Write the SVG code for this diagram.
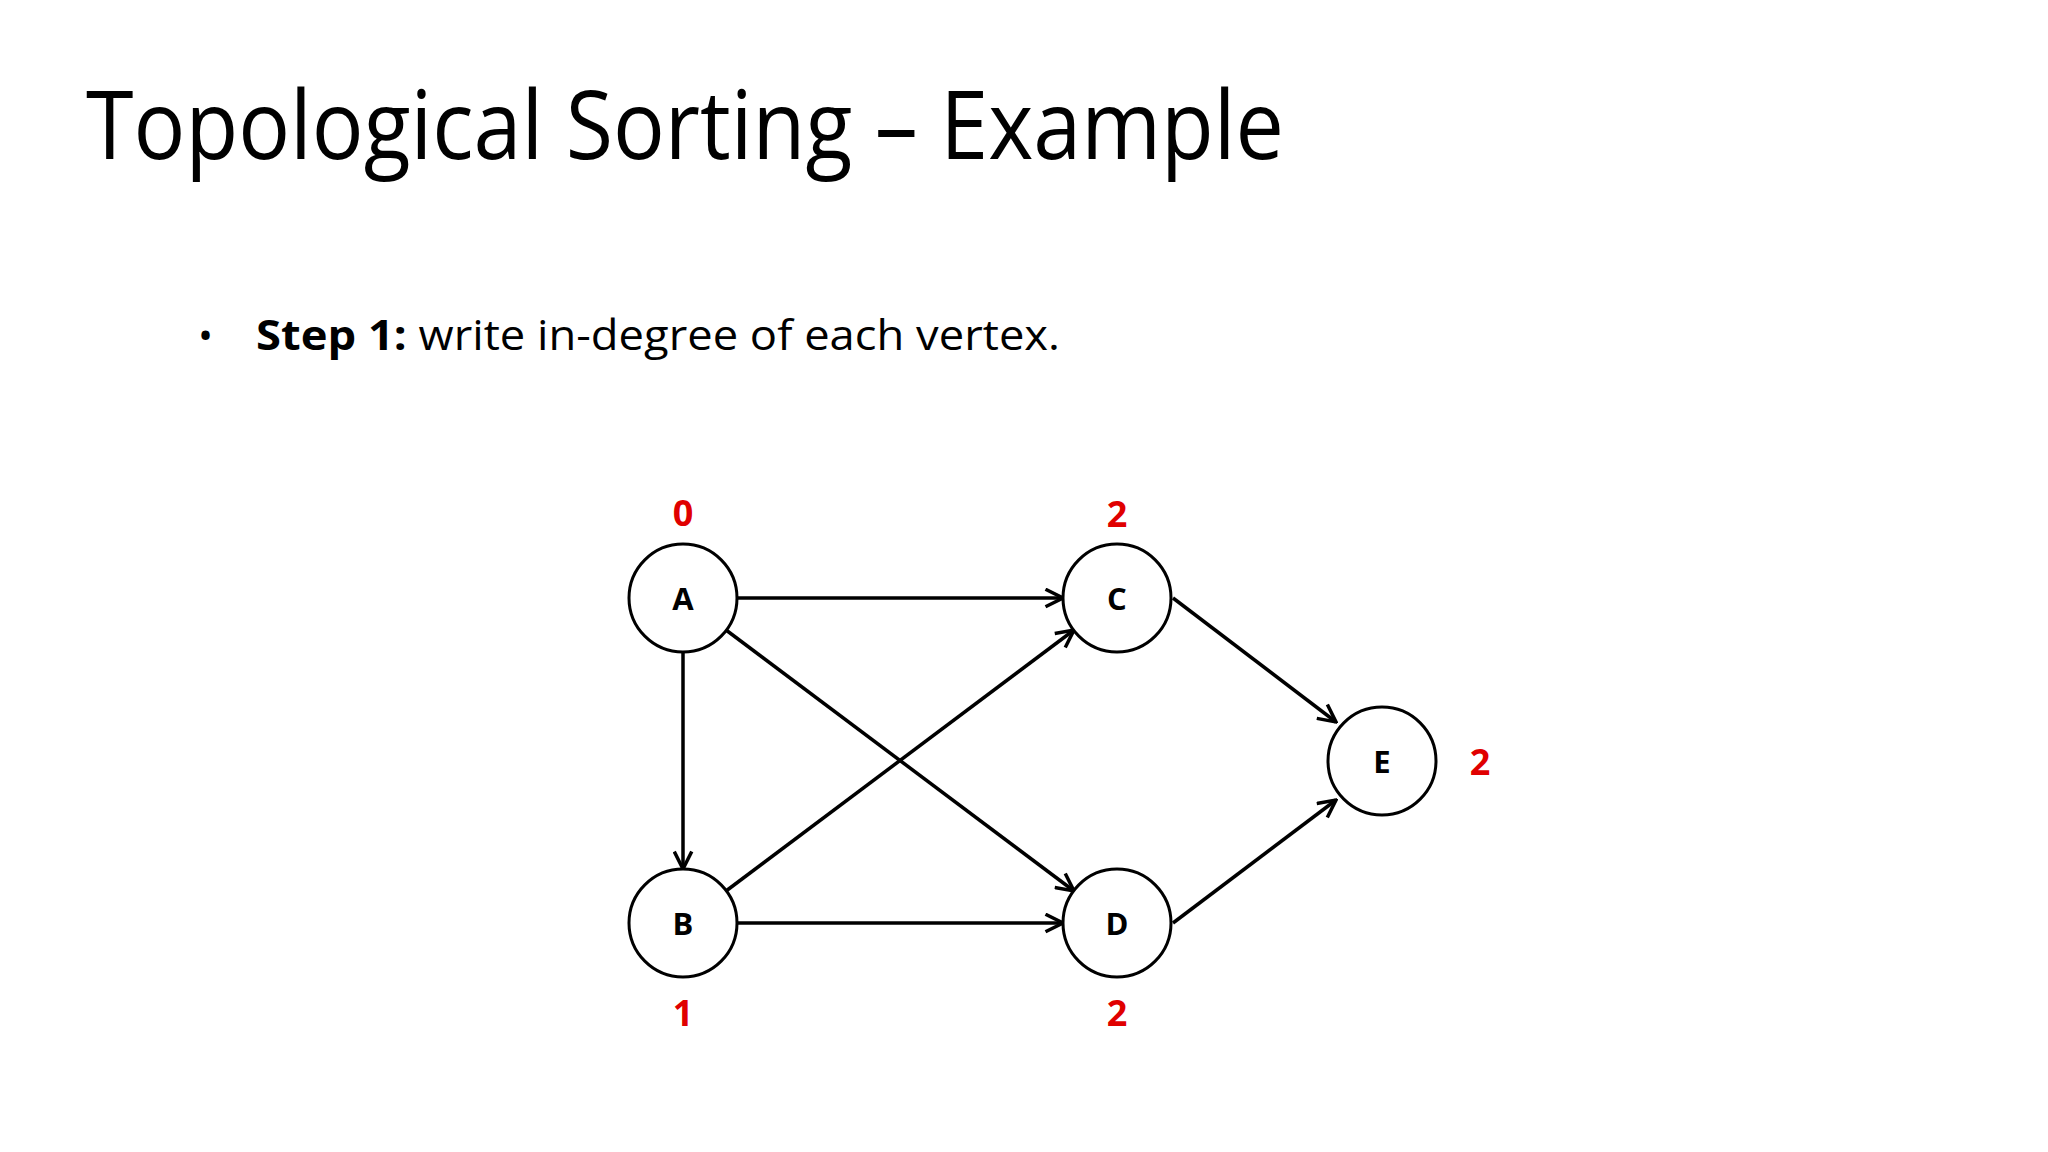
<svg xmlns="http://www.w3.org/2000/svg" width="2048" height="1152" viewBox="0 0 2048 1152">
<style>
.n{fill:#fff;stroke:#000;stroke-width:3}
.l{font-family:"Open Sans","Liberation Sans",sans-serif;font-weight:bold;font-size:31px;text-anchor:middle;dominant-baseline:central}
.d{font-family:"Open Sans","Liberation Sans",sans-serif;font-weight:bold;font-size:36px;fill:#e00000;text-anchor:middle;dominant-baseline:central}
.e{stroke:#000;stroke-width:3.5;fill:none;marker-end:url(#a)}
</style>
<defs><marker id="a" viewBox="0 0 12 12" refX="11" refY="6" markerWidth="6" markerHeight="6" orient="auto" markerUnits="strokeWidth"><path d="M1,1 L11,6 L1,11" fill="none" stroke="#000" stroke-width="2"/></marker></defs>
<rect width="2048" height="1152" fill="#fff"/>
<text x="86" y="159" font-family="Open Sans, Liberation Sans, sans-serif" font-size="96" textLength="1198" lengthAdjust="spacingAndGlyphs">Topological Sorting – Example</text>
<text x="198" y="350" font-family="Open Sans, Liberation Sans, sans-serif" font-size="40">•</text>
<text x="256" y="350" font-family="Open Sans, Liberation Sans, sans-serif" font-size="42" textLength="804" lengthAdjust="spacingAndGlyphs"><tspan font-weight="bold">Step 1:</tspan>  write in-degree of each vertex.</text>
<g id="edges">
<line class="e" x1="737" y1="598" x2="1063" y2="598"/>
<line class="e" x1="683" y1="652" x2="683" y2="869"/>
<line class="e" x1="726" y1="630" x2="1074" y2="891"/>
<line class="e" x1="726" y1="891" x2="1074" y2="630"/>
<line class="e" x1="737" y1="923" x2="1063" y2="923"/>
<line class="e" x1="1173" y1="598" x2="1336" y2="722"/>
<line class="e" x1="1173" y1="923" x2="1336" y2="800"/>
</g>
<g id="A"><circle class="n" cx="683" cy="598" r="54"/><text class="l" x="683" y="598">A</text><text class="d" x="683" y="512">0</text></g>
<g id="C"><circle class="n" cx="1117" cy="598" r="54"/><text class="l" x="1117" y="598">C</text><text class="d" x="1117" y="513">2</text></g>
<g id="B"><circle class="n" cx="683" cy="923" r="54"/><text class="l" x="683" y="923">B</text><text class="d" x="683" y="1012">1</text></g>
<g id="D"><circle class="n" cx="1117" cy="923" r="54"/><text class="l" x="1117" y="923">D</text><text class="d" x="1117" y="1012">2</text></g>
<g id="E"><circle class="n" cx="1382" cy="761" r="54"/><text class="l" x="1382" y="761">E</text><text class="d" x="1480" y="761">2</text></g>
</svg>
